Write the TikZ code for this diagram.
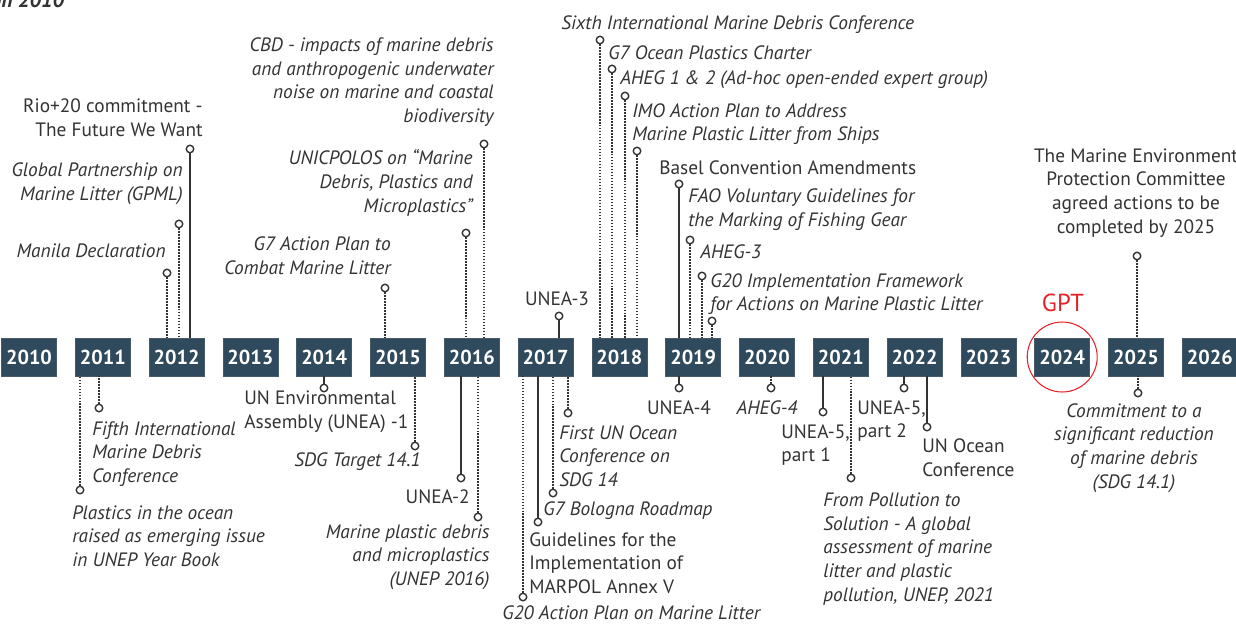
\documentclass[tikz,border=0pt]{standalone}
\usepackage{fontspec}
\setmainfont{PT Sans}
\usepackage{tikz}
\usetikzlibrary{positioning,calc}

\definecolor{slate}{HTML}{2F4A5C}
\definecolor{inkgray}{HTML}{333333}
\definecolor{gptred}{HTML}{E32228}

\begin{document}
\begin{tikzpicture}[
    x=0.02cm, y=-0.02cm,
    yearbox/.style={rectangle, fill=slate, draw=slate!70!gray, line width=0.4pt,
                    minimum width=1.1cm, minimum height=0.76cm, inner sep=0pt,
                    text=white, font=\fontsize{11.5}{13}\selectfont\bfseries},
    dot/.style={circle, draw=inkgray, fill=white, line width=0.8pt,
                minimum size=0.15cm, inner sep=0pt},
    evtext/.style={inner sep=0pt, text=inkgray, font=\fontsize{11}{13.5}\selectfont},
    evital/.style={evtext, font=\fontsize{11}{13.5}\selectfont\itshape},
    dotline/.style={inkgray, line width=0.8pt, dash pattern=on 0.8pt off 0.9pt},
    solidline/.style={inkgray, line width=0.8pt}
  ]
    \useasboundingbox (0,0) rectangle (1236,624);

    % caption fragment at the top edge
    \node[evtext, anchor=south west, font=\fontsize{12}{14}\selectfont\bfseries\itshape]
      (cap) at (-4,8) {in 2010};

    % year boxes
    \foreach \yr [count=\i from 0] in {2010,2011,2012,2013,2014,2015,2016,2017,2018,
                                         2019,2020,2021,2022,2023,2024,2025,2026}
      \node[yearbox] (y\yr) at (29+73.8*\i, 357) {\yr};

    % events above the line
    \node[dot] (c1) at (167,273) {};
    \node[dot] (c2) at (179,224) {};
    \node[dot] (c3) at (190,149) {};
    \node[dot] (c4) at (385,288) {};
    \node[dot] (c5) at (466,233) {};
    \node[dot] (c6) at (484,144) {};
    \node[dot] (c7) at (559,316) {};
    \node[dot] (c8) at (600,40) {};
    \node[dot] (c9) at (612,69) {};
    \node[dot] (c10) at (625,96) {};
    \node[dot] (c11) at (637,151) {};
    \node[dot] (c12) at (679,184) {};
    \node[dot] (c13) at (690,240) {};
    \node[dot] (c14) at (702,276) {};
    \node[dot] (c15) at (712,321) {};
    \node[dot] (c16) at (1137,256) {};

    \node[evital, anchor=east] (manila) at (166,251) {Manila Declaration};
    \node[evital, anchor=east, align=right] (gpml) at (183,184)
      {Global Partnership on\\Marine Litter (GPML)};
    \node[evtext, anchor=east, align=right] (rio) at (203,118)
      {Rio+20 commitment -\\The Future We Want};
    \node[evital, anchor=east, align=right] (g7ap) at (391,256)
      {G7 Action Plan to\\Combat Marine Litter};
    \node[evital, anchor=east, align=right] (unicpolos) at (473,183)
      {UNICPOLOS on ``Marine\\Debris, Plastics and\\Microplastics''};
    \node[evital, anchor=east, align=right] (cbd) at (494,82)
      {CBD - impacts of marine debris\\and anthropogenic underwater\\noise on marine and coastal\\biodiversity};
    \node[evtext] (unea3) at (557,299) {UNEA-3};
    \node[evital, anchor=west] (sixth) at (561,25) {Sixth International Marine Debris Conference};
    \node[evital, anchor=west] (g7ocean) at (608,53) {G7 Ocean Plastics Charter};
    \node[evital, anchor=west] (aheg12) at (620,80) {AHEG 1 \& 2 (Ad-hoc open-ended expert group)};
    \node[evital, anchor=west, align=left] (imo) at (632,124)
      {IMO Action Plan to Address\\Marine Plastic Litter from Ships};
    \node[evtext, anchor=west] (basel) at (659,168) {Basel Convention Amendments};
    \node[evital, anchor=west, align=left] (fao) at (688,210)
      {FAO Voluntary Guidelines for\\the Marking of Fishing Gear};
    \node[evital, anchor=west] (aheg3) at (700,252) {AHEG-3};
    \node[evital, anchor=west, align=left] (g20fw) at (710,294)
      {G20 Implementation Framework\\for Actions on Marine Plastic Litter};
    \node[evtext, align=center] (mepc) at (1136,193)
      {The Marine Environment\\Protection Committee\\agreed actions to be\\completed by 2025};

    \foreach \c/\y in {c1/2012, c2/2012, c4/2015, c5/2016, c6/2016, c8/2018, c9/2018,
                       c10/2018, c11/2018, c13/2019, c14/2019, c15/2019, c16/2025}
      \draw[dotline] (\c) -- (\c |- y\y.north);
    \foreach \c/\y in {c3/2012, c7/2017, c12/2019}
      \draw[solidline] (\c) -- (\c |- y\y.north);

    % events below the line
    \node[dot] (d1) at (80,490) {};
    \node[dot] (d2) at (99,408) {};
    \node[dot] (d3) at (324,388) {};
    \node[dot] (d4) at (415,446) {};
    \node[dot] (d5) at (461,478) {};
    \node[dot] (d6) at (478,517) {};
    \node[dot] (d7) at (523,597) {};
    \node[dot] (d8) at (538,522) {};
    \node[dot] (d9) at (553,493) {};
    \node[dot] (d10) at (568,413) {};
    \node[dot] (d11) at (679,388) {};
    \node[dot] (d12) at (771,388) {};
    \node[dot] (d13) at (823,412) {};
    \node[dot] (d14) at (851,478) {};
    \node[dot] (d15) at (904,388) {};
    \node[dot] (d16) at (927,427) {};
    \node[dot] (d17) at (1138,393) {};

    \foreach \d/\y in {d1/2011, d2/2011, d4/2015, d6/2016, d7/2017, d9/2017, d10/2017,
                       d12/2020, d14/2021, d17/2025}
      \draw[dotline] (\d) -- (\d |- y\y.south);
    \foreach \d/\y in {d3/2014, d5/2016, d8/2017, d11/2019, d13/2021, d15/2022, d16/2022}
      \draw[solidline] (\d) -- (\d |- y\y.south);

    \node[evital, anchor=west, align=left] (fifth) at (92,454)
      {Fifth International\\Marine Debris\\Conference};
    \node[evital, anchor=west, align=left] (ocean) at (72,536)
      {Plastics in the ocean\\raised as emerging issue\\in UNEP Year Book};
    \node[evtext, anchor=west, align=left] (unea1) at (244,412)
      {UN Environmental\\Assembly (UNEA) -1};
    \node[evital, anchor=east] (sdg) at (421,462) {SDG Target 14.1};
    \node[evtext, anchor=east] (unea2) at (470,497) {UNEA-2};
    \node[evital, anchor=east, align=right] (mpd) at (490,557)
      {Marine plastic debris\\and microplastics\\(UNEP 2016)};
    \node[evital, anchor=west, align=left] (firstun) at (559,456)
      {First UN Ocean\\Conference on\\SDG 14};
    \node[evital, anchor=west] (bologna) at (543,511) {G7 Bologna Roadmap};
    \node[evtext, anchor=west, align=left] (marpol) at (529,563)
      {Guidelines for the\\Implementation of\\MARPOL Annex V};
    \node[evital, anchor=west] (g20ap) at (502,613) {G20 Action Plan on Marine Litter};
    \node[evtext] (unea4) at (679,408) {UNEA-4};
    \node[evital] (aheg4) at (767,408) {AHEG-4};
    \node[evtext, anchor=west, align=left] (unea5a) at (781,445) {UNEA-5,\\part 1};
    \node[evital, anchor=west, align=left] (pollution) at (823,549)
      {From Pollution to\\Solution - A global\\assessment of marine\\litter and plastic\\pollution, UNEP, 2021};
    \node[evtext, anchor=west, align=left] (unea5b) at (857,421) {UNEA-5,\\part 2};
    \node[evtext, anchor=west, align=left] (unocean) at (922,458) {UN Ocean\\Conference};
    \node[evital, align=center] (commit) at (1134,448)
      {Commitment to a\\significant reduction\\of marine debris\\(SDG 14.1)};

    % highlight
    \node[circle, draw=gptred, line width=0.6pt, minimum size=1.4cm] (ring) at (y2024) {};
    \node[evtext, text=gptred, font=\fontsize{14}{16}\selectfont] (gpt) at (1063,303) {GPT};
  \end{tikzpicture}
\end{document}
